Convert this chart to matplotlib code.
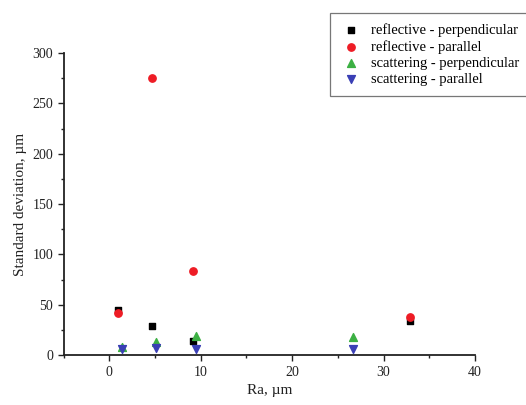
import matplotlib
matplotlib.use("Agg")
import matplotlib.pyplot as plt
from matplotlib.ticker import MultipleLocator

plt.rcParams['font.family'] = ['Liberation Serif', 'DejaVu Serif']

# Ra values (um) and standard deviations (um)
refl_perp_x = [0.9, 4.7, 9.1, 32.9]
refl_perp_y = [45, 29, 14, 34]
refl_par_x = [0.9, 4.7, 9.1, 32.9]
refl_par_y = [42, 275, 84, 38]
scat_perp_x = [1.4, 5.05, 9.5, 26.7]
scat_perp_y = [8, 13, 19, 18]
scat_par_x = [1.4, 5.05, 9.45, 26.7]
scat_par_y = [6, 7.5, 6.5, 6.5]

labels = ["reflective - perpendicular", "reflective - parallel",
          "scattering - perpendicular", "scattering - parallel"]

fig = plt.figure(figsize=(5.26, 4.05), dpi=100)
ax = fig.add_axes([0.121, 0.123, 0.782, 0.746])

ax.scatter(refl_perp_x, refl_perp_y, marker='s', s=24, color='black', label=labels[0], zorder=3)
ax.scatter(refl_par_x, refl_par_y, marker='o', s=28, color='#ee1c25', label=labels[1], zorder=3)
ax.scatter(scat_perp_x, scat_perp_y, marker='^', s=32, color='#3cb043', label=labels[2], zorder=3)
ax.scatter(scat_par_x, scat_par_y, marker='v', s=32, color='#3a3fb5', label=labels[3], zorder=3)

ax.set_xlim(-5, 40)
ax.set_ylim(0, 300)
ax.xaxis.set_major_locator(MultipleLocator(10))
ax.xaxis.set_minor_locator(MultipleLocator(5))
ax.yaxis.set_major_locator(MultipleLocator(50))
ax.yaxis.set_minor_locator(MultipleLocator(25))
ax.tick_params(which='both', direction='out', labelsize=10, colors='#222222')
ax.tick_params(which='major', length=4, width=1)
ax.tick_params(which='minor', length=2.5, width=1)

for side in ['top', 'right']:
    ax.spines[side].set_visible(False)
for side in ['left', 'bottom']:
    ax.spines[side].set_linewidth(1.3)
    ax.spines[side].set_color('#222222')

ax.set_xlabel("Ra, µm", fontsize=11, color='#222222')
ax.set_ylabel("Standard deviation, µm", fontsize=11, color='#222222')

leg = fig.legend(loc='upper left', bbox_to_anchor=(330 / 526, 1 - 13 / 405),
                 borderaxespad=0, fontsize=10.5, frameon=True, fancybox=False,
                 edgecolor='#555555', handletextpad=0.6, borderpad=0.7,
                 labelspacing=0.2, handlelength=1.5, scatterpoints=1)
leg.get_frame().set_linewidth(0.9)

fig.savefig("out.png", dpi=100)
